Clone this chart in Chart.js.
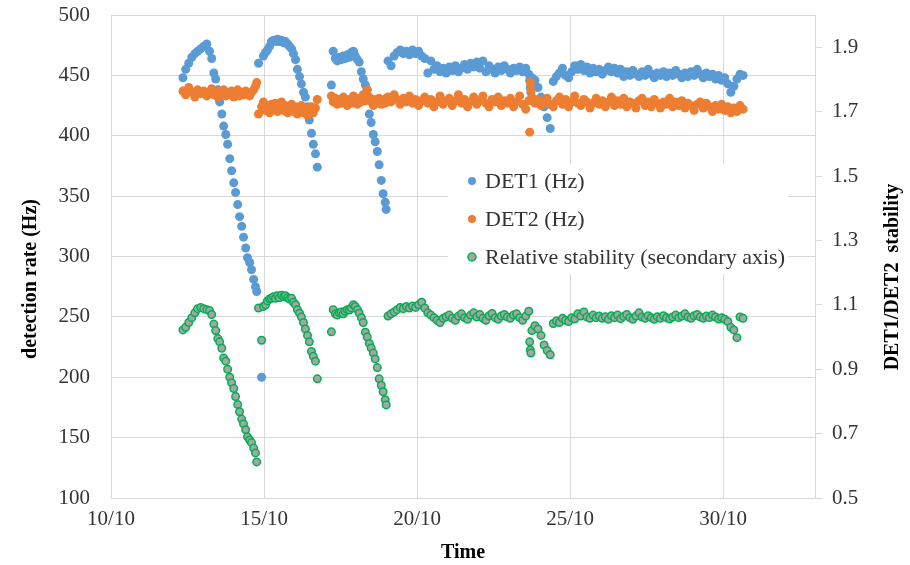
<!DOCTYPE html>
<html>
<head>
<meta charset="utf-8">
<script src="https://cdn.jsdelivr.net/npm/chart.js@4.4.1/dist/chart.umd.min.js"></script>
<style>
  body { margin: 0; background: #ffffff; }
  #wrap { width: 910px; height: 565px; }
</style>
</head>
<body>
<div id="wrap"><canvas id="detChart" width="910" height="565"></canvas></div>
<script>
// temps en jours d'octobre (10 = 10/10)
var times = [
    // premier cycle
    12.35, 12.44, 12.54, 12.64, 12.74, 12.83, 12.93, 13.03, 13.13, 13.22, 13.29, 13.36, 13.42, 13.49, 13.55, 13.62, 13.68,
    13.75, 13.81, 13.88, 13.94, 14.01, 14.07, 14.14, 14.20, 14.27, 14.33, 14.40, 14.46, 14.53, 14.59, 14.66, 14.72, 14.76,
    // deuxieme cycle
    14.82, 14.92, 14.98, 15.05, 15.11, 15.18, 15.24, 15.31, 15.37, 15.44, 15.50, 15.57, 15.64, 15.70, 15.77,
    15.83, 15.90, 15.96, 16.03, 16.09, 16.16, 16.22, 16.29, 16.35, 16.42, 16.48, 16.55, 16.61, 16.68, 16.74,
    // troisieme cycle
    17.20, 17.26, 17.33, 17.39, 17.46, 17.52, 17.59, 17.65, 17.72, 17.79, 17.85, 17.92, 17.98, 18.05, 18.11,
    18.18, 18.24, 18.31, 18.37, 18.44, 18.50, 18.57, 18.63, 18.70, 18.76, 18.83, 18.89, 18.96, 18.99,
    // periode stable
    19.05, 19.15, 19.25, 19.35, 19.45, 19.55, 19.65, 19.75, 19.85, 19.95,
    20.05, 20.15, 20.25, 20.35, 20.45, 20.55, 20.65, 20.75, 20.85, 20.95,
    21.05, 21.15, 21.25, 21.35, 21.45, 21.55, 21.65, 21.75, 21.85, 21.95,
    22.05, 22.15, 22.25, 22.35, 22.45, 22.55, 22.65, 22.75, 22.85, 22.95,
    23.05, 23.15, 23.25, 23.35, 23.45, 23.55, 23.65, 23.68, 23.70, 23.72, 23.75, 23.85, 23.95,
    24.05, 24.15, 24.25, 24.35, 24.45, 24.55, 24.65, 24.75, 24.85, 24.95,
    25.05, 25.15, 25.25, 25.35, 25.45, 25.55, 25.65, 25.75, 25.85, 25.95,
    26.05, 26.15, 26.25, 26.35, 26.45, 26.55, 26.65, 26.75, 26.85, 26.95,
    27.05, 27.15, 27.25, 27.35, 27.45, 27.55, 27.65, 27.75, 27.85, 27.95,
    28.05, 28.15, 28.25, 28.35, 28.45, 28.55, 28.65, 28.75, 28.85, 28.95,
    29.05, 29.15, 29.25, 29.35, 29.45, 29.55, 29.65, 29.75, 29.85, 29.95,
    30.05, 30.15, 30.25, 30.35, 30.45, 30.55, 30.65
];

var det1 = [
    448, 455, 460, 465, 468, 470, 472, 474, 476, 470, 464, 452, 447, 438, 428, 418, 408,
    401, 393, 381, 371, 361, 353, 343, 333, 325, 316, 307, 299, 295, 289, 281, 275, 271,
    460, 200, 466, 469, 471, 474, 478, 479, 478, 480, 478, 479, 477, 478, 476,
    474, 472, 468, 463, 455, 449, 443, 436, 432, 424, 413, 402, 393, 385, 374,
    442, 470, 464, 462, 465, 463, 466, 464, 467, 465, 469, 470, 466, 463, 461,
    453, 447, 442, 438, 418, 411, 401, 395, 387, 376, 363, 352, 345, 339,
    462, 458, 466, 469, 471, 468, 470, 467, 471, 468,
    470, 466, 464, 452, 462, 455, 458, 453, 456, 452,
    457, 454, 458, 453, 456, 459, 455, 460, 457, 461,
    456, 462, 453, 458, 455, 452, 457, 454, 458, 455,
    452, 456, 454, 457, 453, 456, 451, 446, 440, 436, 448, 446, 440,
    432, 424, 415, 406, 445, 449, 452, 456, 450, 448,
    453, 458, 455, 459, 454, 457, 452, 456, 453, 455,
    451, 454, 457, 453, 456, 452, 455, 449, 453, 450,
    454, 451, 449, 453, 450, 455, 451, 448, 452, 450,
    453, 449, 452, 450, 454, 451, 448, 452, 449, 453,
    450, 455, 451, 448, 452, 449, 451, 447, 450, 446,
    448, 443, 436, 441, 447, 451, 450
];

var det2 = [
    437, 434, 440, 436, 432, 438, 435, 437, 433, 436, 439, 434, 436, 432, 437, 435, 438,
    433, 436, 434, 437, 432, 435, 438, 433, 436, 434, 437, 435, 433, 436, 438, 441, 444,
    418, 424, 428, 421, 425, 419, 426, 422, 427, 420, 424, 428, 421, 425, 419,
    423, 426, 420, 424, 418, 422, 425, 419, 423, 417, 421, 424, 419, 423, 430,
    433, 428, 431, 426, 430, 427, 432, 428, 425, 430, 427, 433, 429, 426, 431,
    428, 434, 429, 438, 432, 428, 425, 430, 427, 431, 426, 429, 427, 431,
    432, 428, 434, 430, 426, 431, 428, 433, 427, 430,
    425, 429, 432, 427, 430, 424, 428, 433, 426, 429,
    431, 425, 429, 434, 427, 430, 424, 428, 432, 426,
    429, 433, 427, 424, 430, 428, 432, 425, 429, 427,
    431, 424, 428, 433, 426, 422, 429, 403, 444, 438, 432, 427, 430,
    425, 428, 431, 426, 424, 429, 432, 426, 430, 424,
    428, 433, 427, 425, 430, 428, 423, 427, 431, 426,
    429, 424, 428, 432, 425, 429, 426, 431, 424, 428,
    427, 423, 429, 431, 425, 428, 424, 430, 427, 423,
    428, 426, 431, 424, 428, 425, 429, 423, 427, 425,
    421, 426, 428, 423, 427, 424, 420, 425, 422, 426,
    421, 424, 419, 423, 420, 425, 422
];

var stabilite = [
    1.022, 1.03, 1.045, 1.06, 1.075, 1.088, 1.092, 1.088, 1.085, 1.082, 1.07, 1.04, 1.02, 0.995, 0.985, 0.965, 0.935,
    0.925, 0.9, 0.875, 0.858, 0.84, 0.815, 0.79, 0.768, 0.745, 0.73, 0.712, 0.69, 0.68, 0.672, 0.655, 0.64, 0.612,
    1.09, 0.99, 1.095, 1.1, 1.112, 1.118, 1.12, 1.125, 1.12, 1.128, 1.122, 1.13, 1.125, 1.128, 1.122,
    1.118, 1.12, 1.108, 1.1, 1.085, 1.074, 1.062, 1.045, 1.025, 1.005, 0.985, 0.955, 0.94, 0.925, 0.87,
    1.016, 1.085, 1.072, 1.068, 1.075, 1.078, 1.072, 1.08, 1.085, 1.084, 1.09, 1.1, 1.095, 1.085, 1.074,
    1.06, 1.045, 1.015, 1.0, 0.98, 0.966, 0.95, 0.932, 0.905, 0.87, 0.85, 0.83, 0.805, 0.789,
    1.065, 1.072, 1.078, 1.085, 1.092, 1.088, 1.095, 1.09, 1.096, 1.092,
    1.1, 1.108, 1.09, 1.075, 1.068, 1.06, 1.052, 1.045, 1.058, 1.063,
    1.068, 1.058, 1.052, 1.065, 1.072, 1.06, 1.055, 1.068, 1.075, 1.062,
    1.07, 1.058, 1.052, 1.066, 1.073, 1.06, 1.055, 1.065, 1.07, 1.062,
    1.058, 1.068, 1.072, 1.06, 1.052, 1.065, 1.08, 0.985, 0.96, 0.95, 1.02, 1.035, 1.025,
    1.005, 0.975, 0.958, 0.945, 1.042, 1.05, 1.045, 1.058, 1.052, 1.048,
    1.06, 1.056, 1.072, 1.065, 1.078, 1.062, 1.058, 1.068, 1.06, 1.065,
    1.058, 1.063, 1.055, 1.066, 1.06, 1.068, 1.057, 1.064, 1.07, 1.06,
    1.055, 1.065, 1.075, 1.062, 1.058, 1.066, 1.06, 1.055, 1.063, 1.058,
    1.066, 1.06, 1.056, 1.062, 1.068, 1.06, 1.065, 1.072, 1.062, 1.058,
    1.066, 1.07, 1.062, 1.058, 1.065, 1.06, 1.068, 1.062, 1.056, 1.06,
    1.055, 1.048, 1.03, 1.022, 0.998, 1.062, 1.058
];

var nomsSeries = ['DET1 (Hz)', 'DET2 (Hz)', 'Relative stability (secondary axis)'];
var ticksJours = [10, 15, 20, 25, 30];
var labelsJours = ['10/10', '15/10', '20/10', '25/10', '30/10'];
var ticksStabilite = [0.5, 0.7, 0.9, 1.1, 1.3, 1.5, 1.7, 1.9];

var police = "'Liberation Serif', 'Times New Roman', serif";
var gris = '#d9d9d9';

function points(valeurs) {
    return times.map(function(t, i) { return { x: t, y: valeurs[i] }; });
}

// legende et titres verticaux dessines a la main (position a l'interieur du graphique)
var legendeMaison = {
    id: 'legendeMaison',
    afterDatasetsDraw: function(chart) {
        var ctx = chart.ctx;
        ctx.save();
        ctx.fillStyle = '#ffffff';
        ctx.fillRect(448, 164, 340, 110);

        ctx.font = '22px ' + police;
        ctx.textBaseline = 'middle';
        ctx.textAlign = 'left';
        chart.data.datasets.forEach(function(ds, i) {
            var y = 181 + i * 38;
            ctx.beginPath();
            ctx.arc(472, y, 4, 0, Math.PI * 2);
            ctx.fillStyle = ds.backgroundColor;
            ctx.fill();
            if (ds.borderWidth) {
                ctx.lineWidth = 1.5;
                ctx.strokeStyle = ds.borderColor;
                ctx.stroke();
            }
            ctx.fillStyle = '#333333';
            ctx.fillText(ds.label, 485, y + 1);
        });

        ctx.font = 'bold 20px ' + police;
        ctx.fillStyle = '#000000';
        ctx.textAlign = 'center';
        ctx.translate(31, 279);
        ctx.rotate(-Math.PI / 2);
        ctx.fillText('detection rate (Hz)', 0, 0);
        ctx.restore();

        ctx.save();
        ctx.font = 'bold 20px ' + police;
        ctx.fillStyle = '#000000';
        ctx.textAlign = 'center';
        ctx.textBaseline = 'middle';
        ctx.translate(893, 277);
        ctx.rotate(-Math.PI / 2);
        ctx.fillText('DET1/DET2  stability', 0, 0);
        ctx.restore();
    }
};

// les etiquettes du haut ne doivent pas repousser la zone de trace
function sansMargeVerticale(axis) {
    axis.paddingTop = 0;
    axis.paddingBottom = 0;
}

var ctx = document.getElementById('detChart').getContext('2d');
var monGraphe = new Chart(ctx, {
    type: 'scatter',
    data: {
        datasets: [
            {
                label: nomsSeries[0],
                data: points(det1),
                yAxisID: 'y',
                backgroundColor: '#5B9BD5',
                borderWidth: 0,
                pointRadius: 4.5,
                order: 3
            },
            {
                label: nomsSeries[1],
                data: points(det2),
                yAxisID: 'y',
                backgroundColor: '#ED7D31',
                borderWidth: 0,
                pointRadius: 4.5,
                order: 2
            },
            {
                label: nomsSeries[2],
                data: points(stabilite),
                yAxisID: 'y2',
                backgroundColor: '#A5A5A5',
                borderColor: '#00B050',
                borderWidth: 1.5,
                pointRadius: 3.75,
                order: 1
            }
        ]
    },
    options: {
        responsive: false,
        animation: false,
        layout: { padding: { top: 15, left: 0, right: 0, bottom: 0 } },
        plugins: {
            legend: { display: false },
            tooltip: { enabled: false }
        },
        scales: {
            x: {
                type: 'linear',
                min: 10,
                max: 33,
                afterBuildTicks: function(axis) {
                    axis.ticks = ticksJours.map(function(v) { return { value: v }; });
                },
                afterFit: function(axis) { axis.height = 67; },
                grid: { color: gris, drawTicks: false },
                border: { color: gris },
                ticks: {
                    padding: 9,
                    color: '#333333',
                    font: { family: police, size: 21 },
                    callback: function(v) {
                        var i = ticksJours.indexOf(v);
                        return i >= 0 ? labelsJours[i] : '';
                    }
                },
                title: {
                    display: true,
                    text: 'Time',
                    color: '#000000',
                    padding: { top: 0, bottom: 0 },
                    font: { family: police, size: 20, weight: 'bold', lineHeight: 1.2 }
                }
            },
            y: {
                position: 'left',
                min: 100,
                max: 500,
                afterFit: function(axis) { axis.width = 111; sansMargeVerticale(axis); },
                grid: { color: gris, drawTicks: false },
                border: { color: gris },
                ticks: {
                    stepSize: 50,
                    padding: 21,
                    color: '#333333',
                    font: { family: police, size: 21 }
                }
            },
            y2: {
                position: 'right',
                min: 0.5,
                max: 2.0,
                afterBuildTicks: function(axis) {
                    axis.ticks = ticksStabilite.map(function(v) { return { value: v }; });
                },
                afterFit: function(axis) { axis.width = 95; sansMargeVerticale(axis); },
                grid: { color: gris, drawOnChartArea: false, drawTicks: true, tickLength: 7 },
                border: { color: gris },
                ticks: {
                    padding: 10,
                    color: '#333333',
                    font: { family: police, size: 21 },
                    callback: function(v) { return v.toFixed(1); }
                }
            }
        }
    },
    plugins: [legendeMaison]
});
</script>
</body>
</html>
